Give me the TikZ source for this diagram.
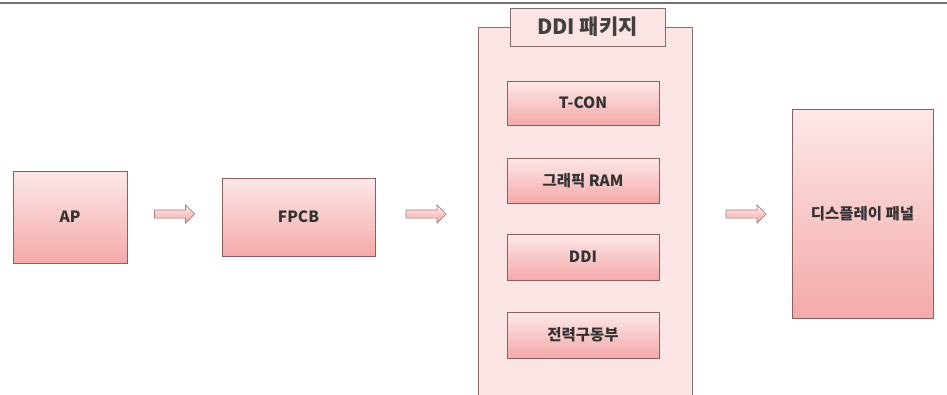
\documentclass[tikz,border=0pt]{standalone}
\usepackage{fontspec}
\setmainfont{Noto Sans CJK KR}
\usetikzlibrary{shapes.arrows,shadows}
\definecolor{boxtop}{HTML}{FDE8E8}
\definecolor{boxbot}{HTML}{F4A9A9}
\definecolor{boxline}{HTML}{8C5E5E}
\definecolor{pkgfill}{HTML}{FBE4E4}
\definecolor{pkgline}{HTML}{8A6C6C}
\tikzset{
  pinkbox/.style={draw=boxline, line width=0.9pt, top color=boxtop, bottom color=boxbot,
    drop shadow={shadow xshift=1.2pt, shadow yshift=-1.2pt, fill=black!35, opacity=0.5},
    font=\fontsize{15.5}{18}\selectfont\bfseries, text=black!80, inner sep=0pt},
  blockarrow/.style={single arrow, draw=boxline!80, line width=0.7pt, top color=boxtop, bottom color=boxbot,
    minimum width=18pt, single arrow head extend=4pt, single arrow head indent=0pt, minimum height=40pt, inner sep=3pt},
}
\begin{document}
\begin{tikzpicture}[x=1pt,y=-1pt]
\useasboundingbox (0,0) rectangle (947,394);
\clip (0,0) rectangle (947,394);
\fill[white] (0,0) rectangle (947,394);
\draw[line width=2.5pt, black!55] (0,3) -- (947,3);
% package
\draw[draw=pkgline, fill=pkgfill, line width=0.9pt] (478,27) rectangle (692,400);
\node[draw=pkgline, fill=pkgfill, line width=0.9pt, minimum width=155pt, minimum height=38pt, inner sep=0pt,
  font=\fontsize{21}{24}\selectfont\bfseries, text=black!75] (title) at (587.5,27) {DDI 패키지};
% boxes
\node[pinkbox, minimum width=114pt, minimum height=92pt] (ap) at (70,217) {AP};
\node[pinkbox, minimum width=153pt, minimum height=78pt] (fpcb) at (298.5,217) {FPCB};
\node[pinkbox, minimum width=152pt, minimum height=44pt] (tcon) at (583,103) {T-CON};
\node[pinkbox, minimum width=152pt, minimum height=45pt] (ram) at (583,180.5) {그래픽 RAM};
\node[pinkbox, minimum width=152pt, minimum height=46pt] (ddi) at (583,257) {DDI};
\node[pinkbox, minimum width=152pt, minimum height=46pt] (pwr) at (583,335) {전력구동부};
\node[pinkbox, minimum width=141pt, minimum height=209pt] (panel) at (862.5,213.5) {디스플레이 패널};
% arrows
\node[blockarrow] (a1) at (172.5,214) {};
\node[blockarrow] (a2) at (424,214) {};
\node[blockarrow] (a3) at (744,214) {};
\end{tikzpicture}
\end{document}
